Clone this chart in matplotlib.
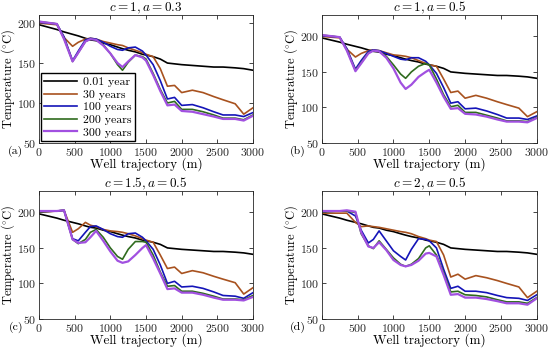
import matplotlib
matplotlib.use('Agg')
import matplotlib.pyplot as plt

plt.rcParams['font.family'] = ['cmr10', 'DejaVu Serif']
plt.rcParams['mathtext.fontset'] = 'cm'
plt.rcParams['axes.formatter.use_mathtext'] = True

# trayectoria del pozo (m)
x = [0, 250, 350, 470, 550, 650, 720, 800, 900, 1000, 1100, 1170, 1250, 1350,
     1450, 1500, 1600, 1700, 1800, 1900, 2000, 2150, 2300, 2450, 2580, 2750, 2870, 3000]

t001 = [198, 192, 189, 186, 184, 181, 179, 178, 175, 173, 170, 168, 166, 164,
        161, 160, 158, 155, 150, 149, 148, 147, 146, 145, 145, 144, 143, 141]

# (a) c=1, a=0.3
a_30 = [200, 198, 182, 171, 176, 180, 181, 180, 177, 175, 173, 172, 169, 166,
        163, 161, 158, 143, 121, 122, 113, 116, 113, 108, 104, 99, 86, 94]
a_100 = [201, 199, 183, 153, 165, 179, 181, 180, 176, 171, 167, 166, 169, 170,
         165, 160, 148, 128, 105, 107, 97, 98, 94, 89, 85, 85, 83, 88]
a_200 = [202, 199, 181, 152, 163, 177, 180, 179, 173, 162, 148, 141, 151, 160,
         158, 155, 137, 117, 100, 102, 92, 92, 89, 85, 81, 81, 79, 85]
a_300 = [202, 199, 180, 152, 163, 177, 180, 179, 172, 162, 150, 145, 152, 160,
         157, 153, 135, 115, 97, 98, 90, 89, 86, 83, 80, 80, 78, 84]

# (b) c=1, a=0.5
b_30 = [200, 198, 182, 171, 176, 180, 181, 180, 177, 174, 173, 172, 170, 166,
        162, 160, 158, 140, 121, 123, 113, 117, 113, 108, 104, 99, 87, 94]
b_100 = [201, 199, 183, 154, 166, 179, 181, 180, 176, 172, 168, 167, 170, 170,
         165, 160, 148, 128, 106, 108, 98, 99, 95, 90, 85, 85, 83, 88]
b_200 = [202, 199, 181, 152, 163, 177, 180, 179, 172, 160, 147, 141, 150, 158,
         162, 160, 140, 118, 101, 103, 93, 93, 89, 85, 81, 81, 80, 86]
b_300 = [202, 199, 180, 151, 162, 176, 180, 179, 170, 155, 135, 126, 132, 143,
         150, 153, 135, 115, 98, 99, 91, 90, 87, 83, 80, 80, 79, 85]

# (c) c=1.5, a=0.5
c_30 = [200, 202, 203, 172, 177, 186, 182, 180, 176, 174, 173, 172, 170, 167,
        163, 161, 158, 140, 121, 123, 114, 118, 115, 110, 106, 101, 85, 94]
c_100 = [201, 202, 203, 163, 160, 172, 180, 181, 176, 170, 166, 165, 170, 171,
         165, 160, 148, 126, 100, 103, 95, 96, 93, 88, 83, 82, 79, 87]
c_200 = [201, 202, 203, 162, 156, 162, 172, 176, 165, 150, 138, 134, 148, 159,
         159, 158, 140, 116, 96, 97, 89, 89, 86, 82, 78, 78, 77, 83]
c_300 = [202, 202, 203, 162, 157, 158, 165, 174, 160, 145, 132, 129, 131, 140,
         150, 154, 135, 114, 92, 93, 87, 87, 84, 80, 77, 77, 76, 81]

# (d) c=2, a=0.5
d_30 = [199, 199, 199, 186, 180, 181, 180, 179, 177, 175, 173, 172, 170, 166,
        163, 161, 159, 140, 109, 113, 106, 111, 108, 104, 100, 95, 80, 89]
d_100 = [201, 202, 202, 195, 175, 157, 162, 174, 160, 146, 138, 133, 148, 163,
         162, 160, 150, 120, 93, 96, 89, 89, 87, 83, 80, 79, 76, 84]
d_200 = [201, 202, 202, 200, 170, 153, 149, 160, 148, 136, 127, 124, 127, 135,
         150, 153, 140, 115, 88, 89, 84, 83, 81, 77, 74, 74, 72, 80]
d_300 = [202, 202, 203, 201, 172, 152, 150, 158, 147, 133, 126, 124, 126, 132,
         142, 143, 138, 112, 84, 85, 80, 80, 78, 75, 72, 72, 70, 79]

etiquetas = ['0.01 year', '30 years', '100 years', '200 years', '300 years']
colores = ['black', '#a8521f', '#1414b8', '#2f6b1e', '#a150e0']
titulos = ['$c = 1, a = 0.3$', '$c = 1, a = 0.5$', '$c = 1.5, a = 0.5$', '$c = 2, a = 0.5$']
letras = ['(a)', '(b)', '(c)', '(d)']
paneles = [(a_30, a_100, a_200, a_300), (b_30, b_100, b_200, b_300),
           (c_30, c_100, c_200, c_300), (d_30, d_100, d_200, d_300)]
techos = [210, 230, 230, 230]

fig = plt.figure(figsize=(5.5, 3.52), dpi=100)
posiciones = [[0.071, 0.594, 0.389, 0.363], [0.585, 0.594, 0.391, 0.363],
              [0.071, 0.094, 0.389, 0.363], [0.585, 0.094, 0.391, 0.363]]

for i in range(4):
    ax = fig.add_axes(posiciones[i])
    series = [t001] + list(paneles[i])
    for j in range(5):
        lw = 1.6 if j == 4 else 1.2
        ax.plot(x, series[j], color=colores[j], lw=lw, label=etiquetas[j])
    ax.set_xlim(0, 3000)
    ax.set_ylim(50, techos[i])
    ax.set_xticks([0, 500, 1000, 1500, 2000, 2500, 3000])
    ax.set_yticks([50, 100, 150, 200])
    ax.tick_params(direction='in', top=True, right=True, labelsize=8.5,
                   length=3, width=0.6, colors='#262626', pad=2)
    for s in ax.spines.values():
        s.set_linewidth(0.6)
        s.set_color('#262626')
    ax.set_title(titulos[i], fontsize=9.5, pad=3)
    ax.set_xlabel('Well trajectory (m)', fontsize=9.5, labelpad=0)
    ax.set_ylabel(r'Temperature $(^{\circ}\mathrm{C})$', fontsize=9, labelpad=0)
    ax.text(-0.075, -0.07, letras[i], transform=ax.transAxes, fontsize=8.5,
            ha='right', va='center')
    if i == 0:
        ax.legend(loc='lower left', fontsize=8.5, frameon=True, fancybox=False,
                  edgecolor='black', framealpha=1, handlelength=2.8,
                  borderpad=0.3, labelspacing=0.2, handletextpad=0.5,
                  borderaxespad=0.15)

fig.savefig('out.png', dpi=100)
